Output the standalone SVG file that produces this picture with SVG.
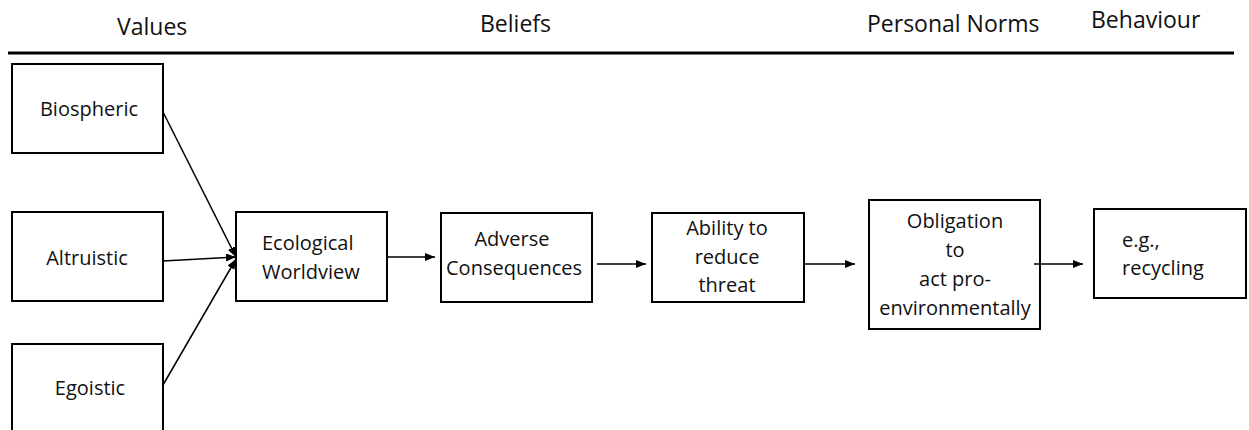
<svg xmlns="http://www.w3.org/2000/svg" width="1249" height="430" viewBox="0 0 1249 430">
<style>
  .box{fill:#fff;stroke:#000;stroke-width:2}
  .t{font-family:"Open Sans","Noto Sans",sans-serif;font-size:20px;fill:#111}
  .c{text-anchor:middle}
  .h{font-family:"Open Sans","Noto Sans",sans-serif;font-size:23px;fill:#111}
  .ln{stroke:#000;stroke-width:1.5;fill:none;marker-end:url(#ah)}
</style>
<defs>
  <marker id="ah" markerUnits="userSpaceOnUse" markerWidth="10" markerHeight="8" refX="10" refY="4" orient="auto">
    <path d="M0,0 L10,4 L0,8 Z" fill="#000"/>
  </marker>
</defs>
<rect width="1249" height="430" fill="#fff"/>
<g id="header">
  <text class="h" x="117" y="35">Values</text>
  <text class="h" x="480" y="32">Beliefs</text>
  <text class="h" x="867" y="32">Personal Norms</text>
  <text class="h" x="1091" y="28">Behaviour</text>
  <line x1="8" y1="53" x2="1234" y2="53" stroke="#000" stroke-width="3"/>
</g>
<g id="biospheric">
  <rect class="box" x="12" y="64" width="151" height="89"/>
  <text class="t c" x="89" y="116">Biospheric</text>
</g>
<g id="altruistic">
  <rect class="box" x="12" y="212" width="151" height="89"/>
  <text class="t c" x="87" y="265">Altruistic</text>
</g>
<g id="egoistic">
  <rect class="box" x="12" y="344" width="151" height="100"/>
  <text class="t c" x="90" y="395">Egoistic</text>
</g>
<g id="ecological">
  <rect class="box" x="236" y="212" width="151" height="89"/>
  <text class="t" x="262" y="250">Ecological</text>
  <text class="t" x="262" y="279">Worldview</text>
</g>
<g id="adverse">
  <rect class="box" x="441" y="213" width="151" height="89"/>
  <text class="t c" x="512" y="246">Adverse</text>
  <text class="t c" x="514" y="275">Consequences</text>
</g>
<g id="ability">
  <rect class="box" x="652" y="213" width="152" height="89"/>
  <text class="t c" x="727" y="235">Ability to</text>
  <text class="t c" x="727" y="264">reduce</text>
  <text class="t c" x="727" y="292">threat</text>
</g>
<g id="obligation">
  <rect class="box" x="869" y="200" width="171" height="129"/>
  <text class="t c" x="955" y="228">Obligation</text>
  <text class="t c" x="955" y="257">to</text>
  <text class="t c" x="955" y="286">act pro-</text>
  <text class="t c" x="955" y="315">environmentally</text>
</g>
<g id="behaviour">
  <rect class="box" x="1094" y="209" width="152" height="89"/>
  <text class="t" x="1122" y="247">e.g.,</text>
  <text class="t" x="1122" y="275">recycling</text>
</g>
<g id="connectors">
  <line class="ln" x1="163" y1="112" x2="236" y2="257"/>
  <line class="ln" x1="163" y1="261" x2="236" y2="257"/>
  <line class="ln" x1="163" y1="385" x2="236" y2="259"/>
  <line class="ln" x1="387" y1="257" x2="435" y2="257"/>
  <line class="ln" x1="597" y1="264" x2="646" y2="264"/>
  <line class="ln" x1="805" y1="264" x2="855" y2="264"/>
  <line class="ln" x1="1034" y1="264" x2="1083" y2="264"/>
</g>
</svg>
